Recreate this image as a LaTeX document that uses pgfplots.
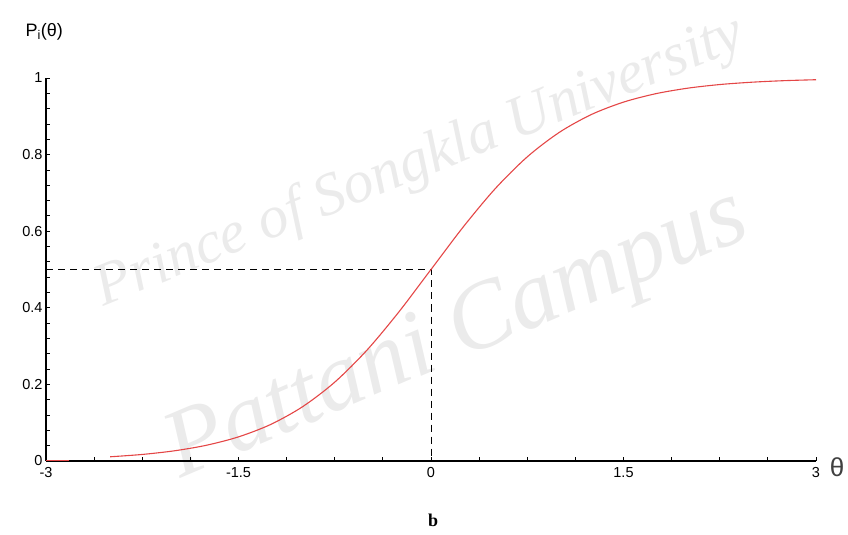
\documentclass[border=0pt]{standalone}
\usepackage{fontspec}
\setmainfont{Liberation Sans}
\newfontfamily\seriffont{Liberation Serif}
\usepackage{pgfplots}
\pgfplotsset{compat=1.18}
\definecolor{curvered}{RGB}{228,70,70}
\begin{document}
\begin{tikzpicture}[x=1pt,y=1pt]
\node[rotate=22, text=black!8, font=\seriffont\fontsize{60}{66}\selectfont\itshape] at (420,372) {Prince of Songkla University};
\node[rotate=23, text=black!8, font=\seriffont\fontsize{96}{104}\selectfont\itshape] at (458,198) {Pattani Campus};
\begin{axis}[at={(46pt,74pt)}, anchor=south west, scale only axis,
  width=770pt, height=383pt,
  xmin=-3, xmax=3, ymin=0, ymax=1,
  axis x line=bottom, axis y line=left,
  axis line style={-, line width=1.1pt},
  xtick={-3,-1.5,0,1.5,3}, xticklabels={-3,-1.5,0,1.5,3},
  ytick={0,0.2,0.4,0.6,0.8,1}, yticklabels={0,0.2,0.4,0.6,0.8,1},
  minor x tick num=3, minor y tick num=4,
  tick style={black, line width=0.8pt},
  major tick length=4pt, minor tick length=4pt, tick align=inside,
  ticklabel style={font=\fontsize{14.5}{16}\selectfont},
  xticklabel style={yshift=-3pt},
  clip=false]
\addplot[black, line width=1pt, dash pattern=on 7pt off 5pt] coordinates {(-3,0.5) (0,0.5) (0,0)};
\addplot[curvered, line width=1.1pt] coordinates {(-3,0.002) (-2.82,0.002)};
\addplot[curvered, line width=1.1pt, smooth] coordinates {
(-2.5,0.0110) (-2.25,0.0171) (-2.0,0.0266) (-1.75,0.0411) (-1.5,0.0630)
(-1.25,0.0953) (-1.0,0.1419) (-0.75,0.2059) (-0.5,0.2891) (-0.25,0.3894)
(0,0.5) (0.25,0.6106) (0.5,0.7109) (0.75,0.7941) (1.0,0.8581)
(1.25,0.9047) (1.5,0.9370) (1.75,0.9589) (2.0,0.9734) (2.25,0.9829)
(2.5,0.9890) (2.75,0.9930) (3.0,0.9955)};
\end{axis}
\node[font=\fontsize{18}{20}\selectfont, anchor=west] at (22,503) {P\textsubscript{i}(θ)};
\node[font=\fontsize{26}{28}\selectfont, text=black!75] at (837,68) {θ};
\node[font=\seriffont\bfseries\fontsize{18}{20}\selectfont] at (433,15) {b};
\pgfresetboundingbox
\path[use as bounding box] (0,0) rectangle (848,535);
\end{tikzpicture}
\end{document}
